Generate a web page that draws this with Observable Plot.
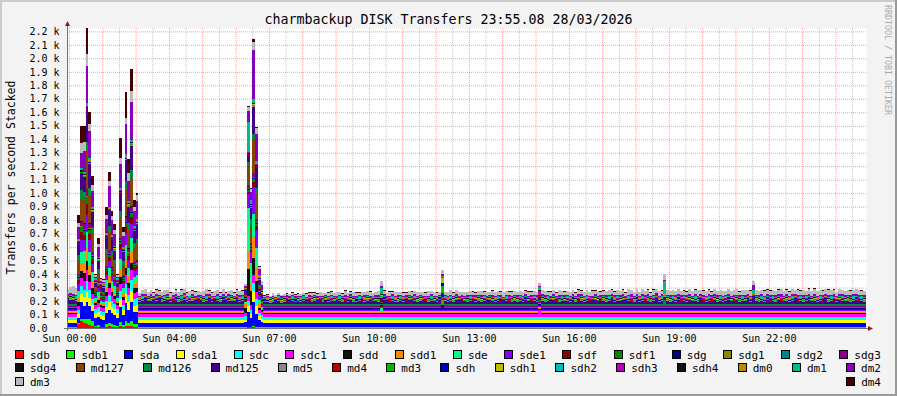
<!DOCTYPE html>
<html><head><meta charset="utf-8">
<script src="https://cdn.jsdelivr.net/npm/d3@7"></script>
<script src="https://cdn.jsdelivr.net/npm/@observablehq/plot@0.6"></script>
<style>
html,body{margin:0;padding:0;background:#fff}
#frame{position:relative;width:897px;height:396px;background:#f3f3f3;overflow:hidden;font-family:"DejaVu Sans Mono",monospace}
#chart{position:absolute;left:0;top:0}
#overlay{position:absolute;left:0;top:0}
.lrow{position:absolute;left:15px;width:866px;height:11px;display:flex;justify-content:space-between;font-size:11px;line-height:11px;white-space:pre;color:#000}
.item{display:inline-block}
.box{display:inline-block;width:9px;height:9px;box-sizing:border-box;border:1px solid #000;vertical-align:baseline;margin-right:6px}
</style></head>
<body>
<div id="frame">
<div id="chart"></div>
<svg id="overlay" width="897" height="396" font-family="'DejaVu Sans Mono', monospace">
  <rect x="0" y="0" width="897" height="2" fill="#cbcbcb"/>
  <rect x="0" y="0" width="2" height="396" fill="#cbcbcb"/>
  <rect x="0" y="394" width="897" height="2" fill="#999"/>
  <rect x="895" y="0" width="2" height="396" fill="#999"/>
  <text x="448.5" y="24" text-anchor="middle" font-size="13.3" fill="#000">charmbackup DISK Transfers 23:55.08 28/03/2026</text>
  <text transform="translate(15,177.5) rotate(-90)" text-anchor="middle" font-size="11.5" fill="#000">Transfers per second Stacked</text>
  <text transform="translate(885,5) rotate(90)" font-size="8.3" fill="#aaaaaa">RRDTOOL / TOBI OETIKER</text>
</svg>
</div>
<script>
// ---- series (stack order, bottom to top) ----
const names = ["sdb","sdb1","sda","sda1","sdc","sdc1","sdd","sdd1","sde","sde1","sdf","sdf1","sdg","sdg1","sdg2","sdg3",
  "sdg4","md127","md126","md125","md5","md4","md3","sdh","sdh1","sdh2","sdh3","sdh4","dm0","dm1","dm2","dm3","dm4"];
const colors = ["#ff0000","#00ff00","#0000ff","#ffff00","#00ffff","#ff00ff","#111111","#ff8800","#00ff88","#8800ff","#880000","#008800","#000088","#888800","#008888","#880088",
  "#111111","#884400","#008844","#440088","#888888","#bb0000","#00bb00","#0000bb","#bbbb00","#00bbbb","#bb00bb","#111111","#bb8800","#00bb88","#8800bb","#bbbbbb","#440000"];
// calm-period value of each series (transfers/s); md125, dm2 and dm3 use their calm arrays
const base = [2,3,34,20,22,20,7,8,10,8,6,4,5,3,4,5,4,6,5,null,4,2,3,5,2,2,3,3,4,6,null,null,3];
// per 5-minute column, columns -1 .. 286
const md125Calm = [
 30,34,28,26,22,22,22,22,22,22,22,22,22,22,22,22,22,22,22,22,22,22,22,22,
 22,22,18,26,30,21,27,16,24,31,19,25,28,17,23,29,20,26,32,18,24,27,15,22,
 28,19,25,30,17,23,26,20,29,16,24,27,21,31,18,25,22,22,22,22,22,22,22,14,
 18,12,20,15,24,13,19,22,16,26,14,21,18,25,15,23,20,27,16,22,19,28,17,24,
 21,15,26,19,23,17,28,20,14,25,22,18,27,16,24,21,19,22,29,15,23,26,18,20,
 25,17,22,28,16,24,20,27,15,23,19,26,21,17,29,22,24,18,25,20,28,16,23,21,
 19,26,22,17,27,20,24,15,28,21,18,25,23,16,26,22,19,27,20,24,17,29,21,23,
 24,18,22,27,20,25,16,28,22,19,26,21,24,17,29,20,23,27,18,25,22,16,28,21,
 22,27,19,25,30,18,24,21,28,16,26,23,20,29,17,25,22,27,19,24,31,18,26,22,
 27,20,25,18,29,22,24,17,28,21,26,19,30,23,18,25,22,28,20,26,17,24,29,21,
 23,28,19,26,21,30,17,24,27,20,25,18,29,22,26,19,28,23,21,27,18,25,30,22,
 26,19,24,29,21,27,18,25,22,30,20,26,23,17,28,24,21,27,19,25,29,22,26,20];
const dm2Calm = [
 12,14,16,12,10,10,10,10,10,10,10,10,10,10,10,10,10,10,10,10,10,10,10,10,
 10,10,8,14,11,6,13,9,16,7,12,10,15,5,11,14,8,12,17,9,6,13,10,15,
 7,12,16,9,11,6,14,10,13,8,15,11,7,12,16,9,10,10,10,10,10,10,10,6,
 8,5,11,7,9,13,6,10,12,7,14,9,6,11,8,13,10,7,15,9,12,6,11,14,
 9,13,7,11,15,8,12,6,14,10,7,16,9,12,5,11,14,8,13,10,6,15,9,12,
 11,7,14,9,12,16,8,10,13,6,11,15,9,12,7,14,10,8,13,11,16,9,12,7,
 13,9,11,15,7,12,10,14,8,16,11,9,13,6,12,15,10,8,14,11,7,13,9,12,
 10,14,8,12,16,9,11,13,7,15,10,12,8,14,11,9,16,12,10,13,7,15,11,9,
 12,8,15,10,13,17,9,11,14,8,12,16,10,13,9,15,11,14,8,12,16,10,13,11,
 9,14,11,16,10,13,8,15,12,10,17,11,14,9,13,16,10,12,15,8,14,11,13,10,
 15,10,13,9,16,12,11,14,8,13,17,10,12,15,9,14,11,16,10,13,12,15,9,14,
 11,16,12,14,10,15,13,9,16,12,14,11,17,10,13,15,12,9,14,16,11,13,10,15];
const dm3Calm = [
 35,45,55,45,20,20,20,20,20,20,20,20,20,20,20,20,20,20,20,20,20,20,20,20,
 20,20,22,30,35,28,32,26,34,30,24,36,28,30,22,32,27,35,29,24,31,26,33,28,
 22,30,36,27,25,32,29,23,34,28,26,31,24,30,27,33,20,20,20,20,20,20,20,10,
 12,8,15,10,14,9,16,11,13,18,10,14,17,12,20,15,22,18,14,24,19,16,25,20,
 18,26,21,15,28,22,19,30,24,17,27,21,25,32,18,23,29,20,26,22,31,19,27,24,
 21,28,17,25,30,22,26,19,29,24,31,20,27,23,18,26,22,28,32,21,25,29,19,27,
 23,30,26,20,28,33,24,27,21,31,25,29,22,34,26,23,30,27,20,28,32,25,29,24,
 30,22,26,33,27,24,31,28,22,35,29,25,32,26,30,23,34,28,27,31,25,36,29,33,
 26,32,28,35,30,24,37,29,33,27,38,31,25,34,30,36,28,32,26,39,30,35,29,30,
 33,27,36,31,38,29,34,26,37,32,30,39,28,35,31,33,27,38,30,36,32,29,37,34,
 31,38,28,35,33,29,40,30,36,32,27,38,34,30,37,29,35,39,31,33,28,36,32,38,
 30,35,29,37,33,39,31,36,28,34,40,32,35,30,38,33,29,36,34,31,37,35,32,30];
// busy 5-minute columns and each series' value in them
const spikeCols = [3,4,5,6,7,8,9,10,11,12,13,14,15,16,17,18,19,20,21,22,23,24, 63,64,65,66,67,68,69, 112,134,169,214,246];
const spike_sdb  = [26,55,40,30,20,15,5,8,4,4,10,12,10,8,5,15,8,15,12,15,10,10, 2,4,6,6,3,3,2, 2,2,2,2,2];
const spike_sdb1 = [10,15,30,40,50,40,8,15,6,6,20,25,20,15,8,30,15,40,25,40,20,20, 3,5,5,10,3,3,3, 3,3,3,3,3];
const spike_sda  = [40,120,90,120,90,70,60,60,55,50,80,100,80,75,60,110,70,130,100,140,85,90, 36,112,60,180,100,50,40, 34,34,34,34,34];
const spike_sda1 = [25,60,70,80,60,45,35,35,30,30,45,55,45,40,35,60,40,70,55,80,50,50, 22,40,30,80,60,30,25, 20,20,20,20,20];
const spike_sdc  = [30,60,50,80,60,45,35,35,32,32,45,55,45,40,35,60,40,70,55,80,50,50, 24,40,30,60,50,25,26, 22,22,22,22,22];
const spike_sdc1 = [30,60,70,80,60,40,30,30,28,28,40,50,40,35,30,55,35,70,50,75,45,45, 22,40,40,60,50,25,24, 20,20,50,20,20];
const spike_sdd  = [30,50,60,70,50,40,15,25,12,12,30,40,30,25,15,45,25,50,40,55,35,35, 40,200,100,120,80,15,10, 7,7,7,7,7];
const spike_sdd1 = [35,60,70,90,70,50,15,25,14,14,35,45,30,25,15,55,25,70,45,75,35,40, 30,130,60,150,100,25,12, 8,8,8,8,8];
const spike_sde  = [50,80,90,120,100,70,20,35,18,18,50,60,50,45,20,80,40,100,65,110,50,50, 12,320,150,180,150,30,15, 30,10,10,10,10];
const spike_sde1 = [50,90,80,130,90,60,15,30,14,14,40,55,40,35,15,70,35,90,60,100,45,45, 8,100,80,200,130,40,15, 8,8,8,8,8];
const spike_sdf  = [30,60,40,80,50,35,10,15,9,9,25,30,20,15,10,40,15,50,30,55,25,25, 6,20,20,40,30,10,6, 6,6,6,6,6];
const spike_sdf1 = [15,36,31,50,30,20,6,10,6,6,12,17,12,10,6,18,10,26,17,30,12,12, 4,15,15,20,15,5,4, 4,4,4,4,4];
const spike_sdg  = [5,5,5,5,5,5,5,5,5,5,5,5,5,5,5,5,5,5,5,5,5,5, 5,5,5,5,5,5,5, 5,30,5,5,5];
const spike_sdg1 = [3,3,3,3,3,3,3,3,3,3,3,3,3,3,3,3,3,3,3,3,3,3, 3,3,3,3,3,3,3, 3,30,3,3,3];
const spike_sdg2 = [4,4,4,4,4,4,4,4,4,4,4,4,4,4,4,4,4,4,4,4,4,4, 4,4,4,4,4,4,4, 4,4,4,4,4];
const spike_sdg3 = [15,30,40,46,31,21,8,10,7,7,14,20,14,10,8,16,10,30,20,31,14,14, 5,20,20,30,25,10,6, 5,5,5,5,5];
const spike_sdg4 = [4,4,4,4,4,4,4,4,4,4,4,4,4,4,4,4,4,4,4,4,4,4, 4,4,4,4,4,4,4, 4,4,4,4,4];
const spike_md127 = [100,155,170,290,200,130,18,60,15,15,90,130,90,80,18,150,80,200,140,200,100,120, 8,150,120,250,180,20,10, 6,6,6,6,6];
const spike_md126 = [40,75,60,60,60,50,8,25,7,7,35,50,30,30,8,50,30,60,50,70,35,40, 5,20,60,40,50,10,5, 5,5,5,40,5];
const spike_md125 = [80,125,110,240,180,110,30,60,30,30,80,100,80,70,30,130,70,160,120,180,90,110, 22,50,80,200,150,40,30, 30,22,22,22,45];
const spike_md5  = [4,4,4,4,4,4,4,4,4,4,4,4,4,4,4,4,4,4,4,4,4,4, 4,4,4,4,4,4,4, 4,4,4,4,4];
const spike_md4  = [2,2,2,2,2,2,2,2,2,2,2,2,2,2,2,2,2,2,2,2,2,2, 2,2,2,2,2,2,2, 2,2,2,2,2];
const spike_md3  = [3,3,3,3,3,3,3,3,3,3,3,3,3,3,3,3,3,3,3,3,3,3, 3,3,3,3,3,3,3, 3,55,3,3,3];
const spike_sdh  = [5,5,5,5,5,5,5,5,5,5,5,5,5,5,5,5,5,5,5,5,5,5, 5,5,5,5,5,5,5, 5,25,5,5,5];
const spike_sdh1 = [2,2,2,2,2,2,2,2,2,2,2,2,2,2,2,2,2,2,2,2,2,2, 2,2,2,2,2,2,2, 2,35,2,2,2];
const spike_sdh2 = [2,2,2,2,2,2,2,2,2,2,2,2,2,2,2,2,2,2,2,2,2,2, 2,2,2,2,2,2,2, 2,2,2,30,2];
const spike_sdh3 = [3,3,3,3,3,3,3,3,3,3,3,3,3,3,3,3,3,3,3,3,3,3, 3,3,3,3,3,3,3, 3,3,30,3,3];
const spike_sdh4 = [3,3,3,3,3,3,3,3,3,3,3,3,3,3,3,3,3,3,3,3,3,3, 3,3,3,3,3,3,3, 3,3,3,3,3];
const spike_dm0  = [4,4,4,4,4,4,4,4,4,4,4,4,4,4,4,4,4,4,4,4,4,4, 4,4,4,4,4,4,4, 4,4,4,4,4];
const spike_dm1  = [10,10,15,20,15,10,6,8,6,6,10,12,10,8,6,12,8,15,12,15,10,10, 6,220,30,30,20,10,8, 45,6,20,60,30];
const spike_dm2  = [90,110,150,275,200,120,12,70,12,12,100,150,110,90,12,180,80,220,150,280,110,130, 10,80,60,360,200,40,35, 16,10,10,10,40];
const spike_dm3  = [30,75,70,90,50,45,15,25,16,11,35,40,30,30,15,40,30,50,60,80,35,45, 18,30,20,60,40,20,25, 32,28,21,38,28];
const spike_dm4  = [60,130,120,195,90,70,5,45,5,5,60,70,40,40,5,150,40,190,100,165,50,15, 3,10,10,20,10,5,5, 3,3,3,3,3];
// axis ticks
const xTickHours = [0,3,6,9,12,15,18,21];
const xTickLabels = ["Sun 00:00","Sun 04:00","Sun 07:00","Sun 10:00","Sun 13:00","Sun 16:00","Sun 19:00","Sun 22:00"];
const yTicks = d3.range(0, 2201, 100);

const spikeTable = [spike_sdb,spike_sdb1,spike_sda,spike_sda1,spike_sdc,spike_sdc1,spike_sdd,spike_sdd1,spike_sde,spike_sde1,
  spike_sdf,spike_sdf1,spike_sdg,spike_sdg1,spike_sdg2,spike_sdg3,spike_sdg4,spike_md127,spike_md126,spike_md125,spike_md5,
  spike_md4,spike_md3,spike_sdh,spike_sdh1,spike_sdh2,spike_sdh3,spike_sdh4,spike_dm0,spike_dm1,spike_dm2,spike_dm3,spike_dm4];
const calmArrays = {md125: md125Calm, dm2: dm2Calm, dm3: dm3Calm};

function valueAt(i, k) {
  const j = spikeCols.indexOf(k);
  if (j >= 0) return spikeTable[i][j] ?? 0;
  const calm = calmArrays[names[i]];
  if (calm) return calm[k + 1] ?? 0;
  return base[i];
}
const rows = [];
for (let k = -1; k <= 287; k++) {
  const kk = Math.min(k, 286);
  names.forEach((s, i) => rows.push({t: k / 12, s, v: valueAt(i, kk)}));
}

const chart = Plot.plot({
  width: 897, height: 346,
  marginLeft: 67, marginRight: 31, marginTop: 28, marginBottom: 18,
  x: {domain: [-0.06, 287 / 12]},
  y: {domain: [0, 2225]},
  color: {domain: names, range: colors},
  style: {background: "transparent", fontFamily: "'DejaVu Sans Mono', monospace", fontSize: "10px", overflow: "visible", color: "#000"},
  marks: [
    Plot.frame({fill: "white", stroke: "none"}),
    Plot.ruleX(d3.range(0.5, 24, 1), {stroke: "#c4c4c4", strokeDasharray: "1,1"}),
    Plot.ruleX(d3.range(0, 24, 1), {stroke: "rgba(255,0,0,0.38)", strokeDasharray: "1,1"}),
    Plot.ruleY(yTicks.filter(d => d > 0), {stroke: "rgba(255,0,0,0.38)", strokeDasharray: "1,1"}),
    Plot.areaY(rows, {x: "t", y: "v", z: "s", fill: "s", order: names, curve: "step-after", clip: true, shapeRendering: "crispEdges"}),
    Plot.axisY({ticks: yTicks, tickFormat: d => d === 0 ? "0.0\u00a0\u00a0" : (d / 1000).toFixed(1) + " k", tickSize: 0, tickPadding: 8, label: null, fontSize: 10}),
    Plot.axisX({ticks: xTickHours, tickFormat: d => xTickLabels[xTickHours.indexOf(d)], tickSize: 0, tickPadding: 6, label: null, fontSize: 10})
  ]
});
document.getElementById("chart").appendChild(chart);

// axis lines and arrows, placed with the plot's own scales
const sx = chart.scale("x"), sy = chart.scale("y");
const X0 = sx.apply(sx.domain[0]), X1 = sx.apply(sx.domain[1]);
const Y0 = sy.apply(0), YT = sy.apply(sy.domain[1]);
const g = d3.select(chart).append("g");
g.append("line").attr("x1", X0 - 3).attr("x2", X1 + 3).attr("y1", Y0 + 0.5).attr("y2", Y0 + 0.5).attr("stroke", "#6e6e6e");
g.append("line").attr("x1", X0 + 0.5).attr("x2", X0 + 0.5).attr("y1", Y0 + 3).attr("y2", YT - 4).attr("stroke", "#6e6e6e");
g.append("path").attr("d", `M${X1 + 2},${Y0 - 2} L${X1 + 7},${Y0 + 0.5} L${X1 + 2},${Y0 + 3} Z`).attr("fill", "#8b1a1a");
g.append("path").attr("d", `M${X0 - 2},${YT - 2} L${X0 + 0.5},${YT - 7} L${X0 + 3},${YT - 2} Z`).attr("fill", "#8b1a1a");

// legend
const legendRows = [names.slice(0, 16), names.slice(16, 31), names.slice(31)];
const legendTops = [349.5, 363.3, 377.2];
const frame = document.getElementById("frame");
legendRows.forEach((row, r) => {
  const div = document.createElement("div");
  div.className = "lrow";
  div.style.top = legendTops[r] + "px";
  row.forEach(n => {
    const it = document.createElement("span");
    it.className = "item";
    const b = document.createElement("span");
    b.className = "box";
    b.style.background = colors[names.indexOf(n)];
    it.appendChild(b);
    it.appendChild(document.createTextNode(n));
    div.appendChild(it);
  });
  frame.appendChild(div);
});
</script>
</body></html>
